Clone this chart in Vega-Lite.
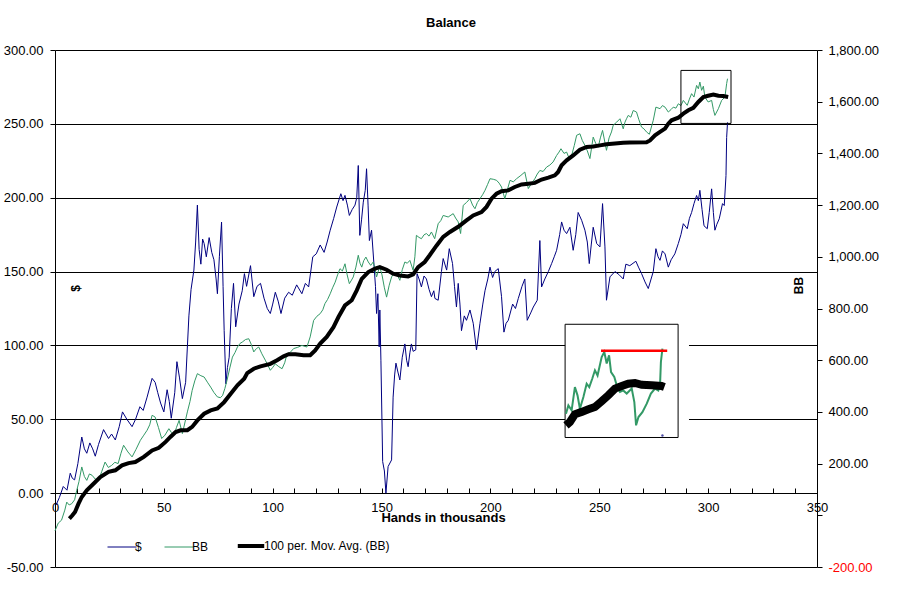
{
  "$schema": "https://vega.github.io/schema/vega-lite/v6.json",
  "width": 762,
  "height": 517,
  "autosize": "none",
  "padding": {"left": 55, "top": 50, "right": 82, "bottom": 45},
  "background": "white",
  "title": {"text": "Balance", "fontSize": 13, "fontWeight": "bold", "anchor": "middle", "dx": 15, "offset": 4, "baseline": "alphabetic", "color": "black"},
  "datasets": {
    "dollar": [
      {"s":"$","x":0.5,"v":-8},{"s":"$","x":2,"v":-3},{"s":"$","x":3.8,"v":4.5},{"s":"$","x":5.5,"v":2},{"s":"$","x":7,"v":13.5},{"s":"$","x":8,"v":10},{"s":"$","x":9,"v":9},{"s":"$","x":10.5,"v":20},{"s":"$","x":12.3,"v":38},{"s":"$","x":13.5,"v":30},{"s":"$","x":14.6,"v":27},{"s":"$","x":16,"v":34},{"s":"$","x":17.3,"v":30},{"s":"$","x":18.5,"v":25},{"s":"$","x":20,"v":33},{"s":"$","x":22.3,"v":43},{"s":"$","x":24.6,"v":37},{"s":"$","x":26,"v":40},{"s":"$","x":27.7,"v":36},{"s":"$","x":29.5,"v":45},{"s":"$","x":31,"v":55},{"s":"$","x":33,"v":50},{"s":"$","x":35.4,"v":45},{"s":"$","x":37,"v":50},{"s":"$","x":39,"v":58.5},{"s":"$","x":40.5,"v":56},{"s":"$","x":42.3,"v":65},{"s":"$","x":44.6,"v":77.7},{"s":"$","x":46,"v":75},{"s":"$","x":47.2,"v":68},{"s":"$","x":48.5,"v":61},{"s":"$","x":50,"v":55},{"s":"$","x":51.5,"v":70},{"s":"$","x":52.5,"v":62},{"s":"$","x":53.4,"v":50.7},{"s":"$","x":55,"v":68},{"s":"$","x":56,"v":89},{"s":"$","x":57.2,"v":78},{"s":"$","x":58.5,"v":64},{"s":"$","x":60,"v":75},{"s":"$","x":61.5,"v":120},{"s":"$","x":62.5,"v":138},{"s":"$","x":63.8,"v":151},{"s":"$","x":64.6,"v":170},{"s":"$","x":65.4,"v":195},{"s":"$","x":66.2,"v":165},{"s":"$","x":67,"v":155},{"s":"$","x":67.8,"v":172},{"s":"$","x":68.5,"v":169},{"s":"$","x":69.5,"v":160},{"s":"$","x":70.8,"v":173},{"s":"$","x":72,"v":163},{"s":"$","x":73,"v":158},{"s":"$","x":74,"v":145},{"s":"$","x":74.6,"v":135},{"s":"$","x":75.5,"v":160},{"s":"$","x":76.5,"v":183.5},{"s":"$","x":77.2,"v":140},{"s":"$","x":77.7,"v":110},{"s":"$","x":78.5,"v":74},{"s":"$","x":79.2,"v":85},{"s":"$","x":80,"v":92},{"s":"$","x":81,"v":125},{"s":"$","x":82,"v":142},{"s":"$","x":83,"v":112.6},{"s":"$","x":84.5,"v":128},{"s":"$","x":86,"v":137},{"s":"$","x":87,"v":148.6},{"s":"$","x":88,"v":140},{"s":"$","x":89.8,"v":154},{"s":"$","x":91.3,"v":133},{"s":"$","x":92.8,"v":140},{"s":"$","x":94.4,"v":142},{"s":"$","x":96,"v":132},{"s":"$","x":97.5,"v":125},{"s":"$","x":98.9,"v":121.6},{"s":"$","x":100,"v":128},{"s":"$","x":101.2,"v":136},{"s":"$","x":102.5,"v":130},{"s":"$","x":103.8,"v":121.6},{"s":"$","x":105.5,"v":132},{"s":"$","x":107.3,"v":136},{"s":"$","x":109,"v":134},{"s":"$","x":111,"v":141},{"s":"$","x":113.4,"v":135},{"s":"$","x":115,"v":142},{"s":"$","x":116.5,"v":139.6},{"s":"$","x":118.4,"v":160},{"s":"$","x":120,"v":162},{"s":"$","x":121.8,"v":168},{"s":"$","x":123.6,"v":163},{"s":"$","x":125,"v":170},{"s":"$","x":126.4,"v":178},{"s":"$","x":128,"v":186},{"s":"$","x":129.4,"v":193.7},{"s":"$","x":131.3,"v":202.7},{"s":"$","x":132.3,"v":198},{"s":"$","x":133.2,"v":201.6},{"s":"$","x":134.3,"v":195},{"s":"$","x":135.2,"v":188},{"s":"$","x":136.5,"v":192},{"s":"$","x":137.8,"v":195},{"s":"$","x":138.6,"v":200},{"s":"$","x":139.3,"v":221.8},{"s":"$","x":140,"v":174.5},{"s":"$","x":140.8,"v":185},{"s":"$","x":141.6,"v":197},{"s":"$","x":142.5,"v":205},{"s":"$","x":143.1,"v":219.6},{"s":"$","x":143.8,"v":195},{"s":"$","x":144.4,"v":171},{"s":"$","x":145.4,"v":178},{"s":"$","x":146.5,"v":155},{"s":"$","x":147.2,"v":140},{"s":"$","x":147.7,"v":121.6},{"s":"$","x":148.3,"v":135},{"s":"$","x":148.9,"v":99},{"s":"$","x":149.2,"v":124},{"s":"$","x":149.7,"v":90},{"s":"$","x":150.5,"v":21.4},{"s":"$","x":151.3,"v":15},{"s":"$","x":152,"v":0},{"s":"$","x":153,"v":18},{"s":"$","x":154.6,"v":22.5},{"s":"$","x":155.3,"v":65},{"s":"$","x":156,"v":80},{"s":"$","x":156.6,"v":88},{"s":"$","x":157.5,"v":82},{"s":"$","x":158.4,"v":76.6},{"s":"$","x":159.5,"v":92},{"s":"$","x":160.7,"v":101},{"s":"$","x":161.5,"v":90},{"s":"$","x":162.2,"v":85.6},{"s":"$","x":163,"v":95},{"s":"$","x":163.7,"v":101},{"s":"$","x":164.5,"v":96},{"s":"$","x":165.7,"v":97},{"s":"$","x":166.3,"v":148.6},{"s":"$","x":167.2,"v":145},{"s":"$","x":168.3,"v":139.6},{"s":"$","x":169.5,"v":147},{"s":"$","x":170.6,"v":145},{"s":"$","x":171.8,"v":138},{"s":"$","x":172.9,"v":133},{"s":"$","x":174,"v":137},{"s":"$","x":174.5,"v":131.8},{"s":"$","x":176,"v":130.6},{"s":"$","x":177.5,"v":150},{"s":"$","x":178.3,"v":158.8},{"s":"$","x":179.9,"v":151},{"s":"$","x":181.1,"v":165.5},{"s":"$","x":182.6,"v":155.4},{"s":"$","x":183.5,"v":140},{"s":"$","x":184.4,"v":126},{"s":"$","x":185.2,"v":142},{"s":"$","x":186,"v":128},{"s":"$","x":186.7,"v":110},{"s":"$","x":188,"v":120},{"s":"$","x":189,"v":117},{"s":"$","x":190.6,"v":124},{"s":"$","x":192.1,"v":115},{"s":"$","x":193.6,"v":97},{"s":"$","x":195.2,"v":115},{"s":"$","x":196.5,"v":128},{"s":"$","x":197.5,"v":137},{"s":"$","x":198.8,"v":145},{"s":"$","x":199.8,"v":153},{"s":"$","x":201,"v":146},{"s":"$","x":202,"v":150},{"s":"$","x":203.6,"v":152},{"s":"$","x":205.1,"v":133},{"s":"$","x":206.2,"v":109},{"s":"$","x":207.2,"v":115},{"s":"$","x":208.2,"v":117},{"s":"$","x":210.2,"v":128},{"s":"$","x":211.5,"v":125},{"s":"$","x":212.8,"v":131.8},{"s":"$","x":214.5,"v":140},{"s":"$","x":215.8,"v":145},{"s":"$","x":216.9,"v":117},{"s":"$","x":218.5,"v":122},{"s":"$","x":219.7,"v":126},{"s":"$","x":221.5,"v":130.6},{"s":"$","x":222.7,"v":171},{"s":"$","x":223.5,"v":139.6},{"s":"$","x":225,"v":145},{"s":"$","x":226.6,"v":150},{"s":"$","x":228.1,"v":155.4},{"s":"$","x":229.3,"v":160},{"s":"$","x":230.4,"v":164.4},{"s":"$","x":231.8,"v":175},{"s":"$","x":232.7,"v":183.6},{"s":"$","x":233.8,"v":178},{"s":"$","x":235,"v":175.7},{"s":"$","x":236.5,"v":180},{"s":"$","x":238,"v":164.4},{"s":"$","x":239.2,"v":175},{"s":"$","x":240.3,"v":190},{"s":"$","x":241.9,"v":184.7},{"s":"$","x":243.4,"v":178},{"s":"$","x":244.5,"v":170},{"s":"$","x":245.4,"v":155.4},{"s":"$","x":246.3,"v":168},{"s":"$","x":247.2,"v":180},{"s":"$","x":248.8,"v":169},{"s":"$","x":250.3,"v":166.7},{"s":"$","x":251.5,"v":196},{"s":"$","x":252.6,"v":166.7},{"s":"$","x":253.3,"v":130.6},{"s":"$","x":254.9,"v":146.4},{"s":"$","x":257.2,"v":150},{"s":"$","x":259,"v":148},{"s":"$","x":261,"v":145},{"s":"$","x":262.2,"v":155},{"s":"$","x":264,"v":154},{"s":"$","x":266.8,"v":157},{"s":"$","x":268,"v":153},{"s":"$","x":269.4,"v":148.7},{"s":"$","x":271,"v":143},{"s":"$","x":272.5,"v":138.5},{"s":"$","x":274.8,"v":150},{"s":"$","x":276,"v":165.5},{"s":"$","x":277,"v":160},{"s":"$","x":277.9,"v":157.6},{"s":"$","x":279,"v":164},{"s":"$","x":280.2,"v":162},{"s":"$","x":281.7,"v":153},{"s":"$","x":283,"v":158},{"s":"$","x":284.7,"v":162},{"s":"$","x":286.3,"v":169},{"s":"$","x":287.5,"v":175},{"s":"$","x":288.6,"v":182.4},{"s":"$","x":290.4,"v":179},{"s":"$","x":291.4,"v":186},{"s":"$","x":292.4,"v":190},{"s":"$","x":293.5,"v":196},{"s":"$","x":294.7,"v":201.5},{"s":"$","x":295.5,"v":198},{"s":"$","x":296.2,"v":205},{"s":"$","x":297.2,"v":192},{"s":"$","x":298.1,"v":181},{"s":"$","x":299.6,"v":179},{"s":"$","x":300.5,"v":190},{"s":"$","x":301.6,"v":206},{"s":"$","x":302.4,"v":190},{"s":"$","x":303.1,"v":178},{"s":"$","x":304,"v":182},{"s":"$","x":305.1,"v":185.7},{"s":"$","x":306.6,"v":196},{"s":"$","x":307.4,"v":194.7},{"s":"$","x":308.2,"v":215},{"s":"$","x":308.5,"v":240.8},{"s":"$","x":308.9,"v":251}
    ],
    "bb": [
      {"s":"BB","x":0,"v":-60},{"s":"BB","x":1.5,"v":-30},{"s":"BB","x":3,"v":-19},{"s":"BB","x":4.5,"v":20},{"s":"BB","x":5.4,"v":51},{"s":"BB","x":6.5,"v":40},{"s":"BB","x":7.7,"v":45},{"s":"BB","x":9,"v":60},{"s":"BB","x":10,"v":97},{"s":"BB","x":11,"v":130},{"s":"BB","x":12.3,"v":187},{"s":"BB","x":13.5,"v":150},{"s":"BB","x":14.6,"v":135},{"s":"BB","x":15.8,"v":160},{"s":"BB","x":17,"v":155},{"s":"BB","x":18.5,"v":140},{"s":"BB","x":20,"v":135},{"s":"BB","x":21.5,"v":170},{"s":"BB","x":23,"v":206},{"s":"BB","x":24.5,"v":185},{"s":"BB","x":26,"v":193},{"s":"BB","x":27.5,"v":205},{"s":"BB","x":29,"v":200},{"s":"BB","x":30.3,"v":240},{"s":"BB","x":31.5,"v":271},{"s":"BB","x":33.5,"v":245},{"s":"BB","x":35.4,"v":226},{"s":"BB","x":37.2,"v":255},{"s":"BB","x":39.2,"v":290},{"s":"BB","x":40.8,"v":310},{"s":"BB","x":42.3,"v":329},{"s":"BB","x":43.5,"v":350},{"s":"BB","x":44.6,"v":387},{"s":"BB","x":46,"v":380},{"s":"BB","x":47.5,"v":340},{"s":"BB","x":49,"v":297},{"s":"BB","x":50.5,"v":310},{"s":"BB","x":52.3,"v":335},{"s":"BB","x":53.5,"v":320},{"s":"BB","x":54.6,"v":310},{"s":"BB","x":55.8,"v":340},{"s":"BB","x":57,"v":367},{"s":"BB","x":58.5,"v":316},{"s":"BB","x":60.8,"v":400},{"s":"BB","x":62,"v":440},{"s":"BB","x":63,"v":483},{"s":"BB","x":64.2,"v":520},{"s":"BB","x":65.4,"v":548},{"s":"BB","x":67,"v":540},{"s":"BB","x":68.5,"v":535},{"s":"BB","x":70,"v":515},{"s":"BB","x":71.5,"v":496},{"s":"BB","x":73,"v":475},{"s":"BB","x":74.6,"v":458},{"s":"BB","x":76,"v":455},{"s":"BB","x":77,"v":464},{"s":"BB","x":78,"v":490},{"s":"BB","x":79,"v":522},{"s":"BB","x":80.3,"v":570},{"s":"BB","x":81.5,"v":612},{"s":"BB","x":82.7,"v":630},{"s":"BB","x":83.8,"v":651},{"s":"BB","x":85,"v":665},{"s":"BB","x":86,"v":670},{"s":"BB","x":87.5,"v":680},{"s":"BB","x":89,"v":683},{"s":"BB","x":90.2,"v":660},{"s":"BB","x":91.3,"v":632},{"s":"BB","x":92.5,"v":645},{"s":"BB","x":93.6,"v":651},{"s":"BB","x":95,"v":625},{"s":"BB","x":96.6,"v":600},{"s":"BB","x":97.8,"v":580},{"s":"BB","x":98.9,"v":561},{"s":"BB","x":100,"v":572},{"s":"BB","x":101.2,"v":586},{"s":"BB","x":102.8,"v":575},{"s":"BB","x":104.3,"v":567},{"s":"BB","x":105.5,"v":590},{"s":"BB","x":106.6,"v":625},{"s":"BB","x":108,"v":630},{"s":"BB","x":109.6,"v":645},{"s":"BB","x":111.5,"v":650},{"s":"BB","x":113.4,"v":657},{"s":"BB","x":115.7,"v":651},{"s":"BB","x":117.2,"v":690},{"s":"BB","x":118.8,"v":754},{"s":"BB","x":120.3,"v":770},{"s":"BB","x":121.8,"v":780},{"s":"BB","x":123,"v":795},{"s":"BB","x":124,"v":819},{"s":"BB","x":125.2,"v":835},{"s":"BB","x":126.4,"v":857},{"s":"BB","x":127.5,"v":880},{"s":"BB","x":128.7,"v":902},{"s":"BB","x":129.8,"v":930},{"s":"BB","x":130.9,"v":954},{"s":"BB","x":132,"v":945},{"s":"BB","x":133.2,"v":973},{"s":"BB","x":134.2,"v":930},{"s":"BB","x":135.2,"v":896},{"s":"BB","x":136.2,"v":910},{"s":"BB","x":137,"v":922},{"s":"BB","x":138.2,"v":960},{"s":"BB","x":139.3,"v":1006},{"s":"BB","x":140.1,"v":975},{"s":"BB","x":140.9,"v":960},{"s":"BB","x":141.8,"v":985},{"s":"BB","x":142.8,"v":999},{"s":"BB","x":143.9,"v":980},{"s":"BB","x":145,"v":967},{"s":"BB","x":146.2,"v":980},{"s":"BB","x":147,"v":950},{"s":"BB","x":147.7,"v":922},{"s":"BB","x":148.5,"v":945},{"s":"BB","x":149.2,"v":960},{"s":"BB","x":150.2,"v":930},{"s":"BB","x":151.3,"v":880},{"s":"BB","x":152.3,"v":844},{"s":"BB","x":153.5,"v":890},{"s":"BB","x":154.6,"v":922},{"s":"BB","x":155.8,"v":940},{"s":"BB","x":156.9,"v":935},{"s":"BB","x":158.4,"v":909},{"s":"BB","x":159.5,"v":950},{"s":"BB","x":160.7,"v":980},{"s":"BB","x":161.8,"v":975},{"s":"BB","x":163,"v":986},{"s":"BB","x":164.5,"v":948},{"s":"BB","x":165.3,"v":1000},{"s":"BB","x":166,"v":1083},{"s":"BB","x":167.2,"v":1075},{"s":"BB","x":168.3,"v":1070},{"s":"BB","x":169.5,"v":1085},{"s":"BB","x":170.6,"v":1090},{"s":"BB","x":171.8,"v":1080},{"s":"BB","x":172.9,"v":1096},{"s":"BB","x":174.4,"v":1070},{"s":"BB","x":176,"v":1128},{"s":"BB","x":177.2,"v":1140},{"s":"BB","x":178.3,"v":1160},{"s":"BB","x":180.6,"v":1154},{"s":"BB","x":182.9,"v":1167},{"s":"BB","x":184,"v":1150},{"s":"BB","x":185.2,"v":1135},{"s":"BB","x":186.3,"v":1090},{"s":"BB","x":187.5,"v":1199},{"s":"BB","x":189,"v":1210},{"s":"BB","x":190.6,"v":1225},{"s":"BB","x":191.8,"v":1200},{"s":"BB","x":192.9,"v":1186},{"s":"BB","x":194,"v":1210},{"s":"BB","x":195.2,"v":1225},{"s":"BB","x":196.4,"v":1240},{"s":"BB","x":197.5,"v":1257},{"s":"BB","x":198.7,"v":1280},{"s":"BB","x":199.8,"v":1302},{"s":"BB","x":201.3,"v":1300},{"s":"BB","x":202.8,"v":1296},{"s":"BB","x":204,"v":1285},{"s":"BB","x":205.1,"v":1270},{"s":"BB","x":206.6,"v":1225},{"s":"BB","x":207.8,"v":1260},{"s":"BB","x":209,"v":1296},{"s":"BB","x":210.5,"v":1290},{"s":"BB","x":212,"v":1302},{"s":"BB","x":214,"v":1315},{"s":"BB","x":215.8,"v":1328},{"s":"BB","x":217.4,"v":1264},{"s":"BB","x":219,"v":1285},{"s":"BB","x":220.4,"v":1302},{"s":"BB","x":221.5,"v":1320},{"s":"BB","x":222.7,"v":1334},{"s":"BB","x":224.2,"v":1330},{"s":"BB","x":225.8,"v":1347},{"s":"BB","x":227.3,"v":1355},{"s":"BB","x":228.8,"v":1367},{"s":"BB","x":230.4,"v":1392},{"s":"BB","x":231.5,"v":1405},{"s":"BB","x":232.4,"v":1418},{"s":"BB","x":233.8,"v":1400},{"s":"BB","x":235,"v":1405},{"s":"BB","x":236.2,"v":1380},{"s":"BB","x":237.3,"v":1392},{"s":"BB","x":238.5,"v":1430},{"s":"BB","x":239.6,"v":1470},{"s":"BB","x":241.1,"v":1476},{"s":"BB","x":242.2,"v":1450},{"s":"BB","x":243.4,"v":1431},{"s":"BB","x":244.5,"v":1410},{"s":"BB","x":245.7,"v":1380},{"s":"BB","x":247.2,"v":1463},{"s":"BB","x":248.3,"v":1440},{"s":"BB","x":249.5,"v":1424},{"s":"BB","x":250.5,"v":1460},{"s":"BB","x":251.5,"v":1489},{"s":"BB","x":253.3,"v":1412},{"s":"BB","x":254.5,"v":1460},{"s":"BB","x":255.6,"v":1483},{"s":"BB","x":256.4,"v":1509},{"s":"BB","x":258,"v":1521},{"s":"BB","x":259.5,"v":1534},{"s":"BB","x":261,"v":1495},{"s":"BB","x":261.8,"v":1521},{"s":"BB","x":262.5,"v":1534},{"s":"BB","x":263.3,"v":1547},{"s":"BB","x":264.5,"v":1540},{"s":"BB","x":265.6,"v":1566},{"s":"BB","x":267.1,"v":1560},{"s":"BB","x":268.2,"v":1530},{"s":"BB","x":269.4,"v":1502},{"s":"BB","x":270.5,"v":1495},{"s":"BB","x":271.7,"v":1483},{"s":"BB","x":273,"v":1474},{"s":"BB","x":274.8,"v":1528},{"s":"BB","x":276,"v":1579},{"s":"BB","x":277.9,"v":1573},{"s":"BB","x":279,"v":1585},{"s":"BB","x":280.2,"v":1579},{"s":"BB","x":281.7,"v":1560},{"s":"BB","x":283,"v":1570},{"s":"BB","x":284,"v":1579},{"s":"BB","x":285.2,"v":1575},{"s":"BB","x":286.3,"v":1592},{"s":"BB","x":287.5,"v":1585},{"s":"BB","x":288.6,"v":1605},{"s":"BB","x":290.4,"v":1586},{"s":"BB","x":291.4,"v":1610},{"s":"BB","x":292.4,"v":1631},{"s":"BB","x":293.5,"v":1618},{"s":"BB","x":294.7,"v":1663},{"s":"BB","x":295.5,"v":1650},{"s":"BB","x":296.2,"v":1676},{"s":"BB","x":297,"v":1644},{"s":"BB","x":297.8,"v":1660},{"s":"BB","x":298.5,"v":1618},{"s":"BB","x":300,"v":1599},{"s":"BB","x":301.6,"v":1605},{"s":"BB","x":302.4,"v":1570},{"s":"BB","x":303.1,"v":1547},{"s":"BB","x":304.7,"v":1573},{"s":"BB","x":306.2,"v":1605},{"s":"BB","x":307.7,"v":1618},{"s":"BB","x":308.5,"v":1670},{"s":"BB","x":308.9,"v":1689}
    ],
    "ma": [
      {"s":"MA","x":6.6,"v":-13},{"s":"MA","x":8,"v":0},{"s":"MA","x":9.2,"v":13},{"s":"MA","x":10.8,"v":45},{"s":"MA","x":12.3,"v":71},{"s":"MA","x":14.6,"v":97},{"s":"MA","x":17.7,"v":122},{"s":"MA","x":20.8,"v":148},{"s":"MA","x":24.6,"v":168},{"s":"MA","x":27.7,"v":174},{"s":"MA","x":30.8,"v":193},{"s":"MA","x":33.8,"v":202},{"s":"MA","x":36.9,"v":206},{"s":"MA","x":40.8,"v":226},{"s":"MA","x":44.6,"v":251},{"s":"MA","x":47.7,"v":261},{"s":"MA","x":50.8,"v":284},{"s":"MA","x":53,"v":303},{"s":"MA","x":55.4,"v":322},{"s":"MA","x":57.7,"v":329},{"s":"MA","x":60.8,"v":329},{"s":"MA","x":63,"v":342},{"s":"MA","x":65.4,"v":367},{"s":"MA","x":68.5,"v":393},{"s":"MA","x":71.5,"v":406},{"s":"MA","x":74.6,"v":413},{"s":"MA","x":77.7,"v":438},{"s":"MA","x":80.8,"v":471},{"s":"MA","x":83.8,"v":503},{"s":"MA","x":86.9,"v":528},{"s":"MA","x":88.3,"v":550},{"s":"MA","x":91.3,"v":567},{"s":"MA","x":94.4,"v":576},{"s":"MA","x":98.9,"v":586},{"s":"MA","x":102,"v":600},{"s":"MA","x":105,"v":615},{"s":"MA","x":107.3,"v":623},{"s":"MA","x":110.4,"v":623},{"s":"MA","x":114.2,"v":619},{"s":"MA","x":117.2,"v":619},{"s":"MA","x":119.5,"v":638},{"s":"MA","x":121.8,"v":664},{"s":"MA","x":124.8,"v":690},{"s":"MA","x":127.9,"v":728},{"s":"MA","x":130.2,"v":767},{"s":"MA","x":133.2,"v":812},{"s":"MA","x":136.3,"v":832},{"s":"MA","x":138.6,"v":870},{"s":"MA","x":140.9,"v":915},{"s":"MA","x":143.9,"v":941},{"s":"MA","x":147,"v":954},{"s":"MA","x":149.2,"v":960},{"s":"MA","x":152.3,"v":950},{"s":"MA","x":155.3,"v":935},{"s":"MA","x":158.4,"v":928},{"s":"MA","x":162.2,"v":924},{"s":"MA","x":164.5,"v":932},{"s":"MA","x":166.8,"v":960},{"s":"MA","x":169.8,"v":980},{"s":"MA","x":172.1,"v":1006},{"s":"MA","x":175.3,"v":1044},{"s":"MA","x":178.3,"v":1077},{"s":"MA","x":181.4,"v":1096},{"s":"MA","x":185.2,"v":1116},{"s":"MA","x":189,"v":1141},{"s":"MA","x":192.1,"v":1160},{"s":"MA","x":195.9,"v":1173},{"s":"MA","x":198.2,"v":1193},{"s":"MA","x":200.5,"v":1225},{"s":"MA","x":202.8,"v":1244},{"s":"MA","x":205.1,"v":1254},{"s":"MA","x":208.2,"v":1257},{"s":"MA","x":211.2,"v":1270},{"s":"MA","x":214.3,"v":1280},{"s":"MA","x":217.4,"v":1283},{"s":"MA","x":220.4,"v":1286},{"s":"MA","x":223.5,"v":1299},{"s":"MA","x":226.6,"v":1306},{"s":"MA","x":229.6,"v":1315},{"s":"MA","x":231.1,"v":1328},{"s":"MA","x":232.7,"v":1354},{"s":"MA","x":235,"v":1373},{"s":"MA","x":238,"v":1392},{"s":"MA","x":241.1,"v":1414},{"s":"MA","x":244.2,"v":1425},{"s":"MA","x":247.2,"v":1427},{"s":"MA","x":250.3,"v":1431},{"s":"MA","x":253.3,"v":1435},{"s":"MA","x":257.2,"v":1438},{"s":"MA","x":261,"v":1441},{"s":"MA","x":264,"v":1442},{"s":"MA","x":271.7,"v":1443},{"s":"MA","x":273.3,"v":1450},{"s":"MA","x":275.6,"v":1470},{"s":"MA","x":277.9,"v":1483},{"s":"MA","x":280.2,"v":1496},{"s":"MA","x":281.7,"v":1515},{"s":"MA","x":283.2,"v":1528},{"s":"MA","x":286.3,"v":1538},{"s":"MA","x":288.6,"v":1554},{"s":"MA","x":290.9,"v":1567},{"s":"MA","x":293.2,"v":1576},{"s":"MA","x":295.5,"v":1599},{"s":"MA","x":297.8,"v":1618},{"s":"MA","x":300,"v":1623},{"s":"MA","x":302.4,"v":1628},{"s":"MA","x":304.7,"v":1623},{"s":"MA","x":306.9,"v":1622},{"s":"MA","x":309.2,"v":1618}
    ],
    "insetBg": [{"x":234.3,"x2":291.2,"v":301,"v2":739}],
    "insetBox": [{"x":234.3,"x2":286.2,"v":301,"v2":739}],
    "zoomBox": [{"x":287.5,"x2":310.5,"v":1516,"v2":1721}],
    "insetGreen": [
      {"x":234.7,"v":393},{"x":235.8,"v":425},{"x":237.3,"v":406},{"x":238.8,"v":496},{"x":240,"v":464},{"x":241.1,"v":412},{"x":242.7,"v":458},{"x":244.2,"v":509},{"x":245.4,"v":496},{"x":246.8,"v":529},{"x":248,"v":561},{"x":249.2,"v":541},{"x":251.1,"v":612},{"x":252.3,"v":632},{"x":253.4,"v":587},{"x":254.5,"v":619},{"x":255.4,"v":554},{"x":256.9,"v":535},{"x":258,"v":503},{"x":259.5,"v":477},{"x":261,"v":483},{"x":262.6,"v":471},{"x":264.9,"v":490},{"x":266.1,"v":438},{"x":266.9,"v":348},{"x":268,"v":380},{"x":269.8,"v":399},{"x":271.8,"v":432},{"x":273.7,"v":471},{"x":275.6,"v":490},{"x":277.1,"v":483},{"x":277.9,"v":503},{"x":278.3,"v":593},{"x":279,"v":645}
    ],
    "insetBlack": [
      {"x":234.7,"v":348},{"x":236.5,"v":361},{"x":238.8,"v":391},{"x":241.9,"v":400},{"x":245,"v":410},{"x":248,"v":419},{"x":251.1,"v":441},{"x":254.1,"v":464},{"x":257.2,"v":490},{"x":260.3,"v":500},{"x":263.3,"v":509},{"x":266.4,"v":512},{"x":269.5,"v":505},{"x":274,"v":503},{"x":278.6,"v":500},{"x":279.9,"v":496}
    ],
    "insetRed": [{"x":250.8,"v":637},{"x":281.2,"v":637}],
    "insetDot": [{"x":279,"v":309}]
  },
  "layer": [
    {
      "data": {"name": "dollar"},
      "mark": {"type": "line", "strokeWidth": 1},
      "encoding": {
        "x": {
          "field": "x", "type": "quantitative",
          "scale": {"domain": [0, 350], "nice": false, "zero": false},
          "axis": {
            "orient": "bottom", "offset": -74, "tickCount": 40,
            "values": [0,10,20,30,40,50,60,70,80,90,100,110,120,130,140,150,160,170,180,190,200,210,220,230,240,250,260,270,280,290,300,310,320,330,340,350],
            "labelExpr": "datum.value % 50 === 0 ? datum.label : ''",
            "grid": false, "tickSize": -5, "tickColor": "black", "domainColor": "black",
            "labelFontSize": 13, "labelColor": "black", "labelPadding": 13, "labelFlush": false, "labelOverlap": false, "labelBound": false,
            "title": "Hands in thousands", "titleFontSize": 13, "titleFontWeight": "bold", "titleColor": "black",
            "titleX": 388, "titleY": 24, "titleBaseline": "middle", "titleAlign": "center"
          }
        },
        "y": {
          "field": "v", "type": "quantitative",
          "scale": {"domain": [-50, 300], "nice": false, "zero": false},
          "axis": {
            "orient": "left", "values": [-50,0,50,100,150,200,250,300], "tickCount": 10,
            "labelExpr": "replace(format(datum.value, '.2f'), '\u2212', '-')",
            "grid": true, "gridColor": "black", "gridOpacity": 1, "gridWidth": 1,
            "tickSize": 5, "tickColor": "black", "domainColor": "black",
            "labelFontSize": 13, "labelColor": "black", "labelPadding": 7,
            "title": "$", "titleFontSize": 12, "titleFontWeight": "bold", "titleColor": "black",
            "titleX": 20, "titleY": 238, "titleAngle": 270, "titleAlign": "center", "titleBaseline": "middle"
          }
        },
        "color": {
          "field": "s", "type": "nominal",
          "scale": {"domain": ["$", "BB", "MA"], "range": ["#000080", "#339966", "#000000"]},
          "legend": {
            "orient": "none", "legendX": 61, "legendY": 490, "direction": "horizontal", "title": null,
            "symbolType": "stroke", "symbolSize": 841, "labelFontSize": 12, "labelColor": "black",
            "labelOffset": 7, "columnPadding": 20, "padding": 0,
            "labelExpr": "datum.label == 'MA' ? '100 per. Mov. Avg. (BB)' : datum.label",
            "encode": {"symbols": {"update": {
              "strokeWidth": {"signal": "datum.value == 'MA' ? 4 : 1"},
              "size": {"signal": "datum.value == 'MA' ? 700 : 841"}
            }}}
          }
        }
      }
    },
    {
      "encoding": {
        "x": {"field": "x", "type": "quantitative", "axis": {"labelOverlap": false}},
        "y": {
          "field": "v", "type": "quantitative",
          "scale": {"domain": [-200, 1800], "nice": false, "zero": false},
          "axis": {
            "orient": "right", "values": [-200,0,200,400,600,800,1000,1200,1400,1600,1800], "tickCount": 12,
            "labelExpr": "datum.value == 0 ? '' : replace(format(datum.value, ',.2f'), '\u2212', '-')",
            "labelColor": {"condition": {"test": "datum.value < 0", "value": "#FF0000"}, "value": "black"},
            "grid": false, "tickSize": 5, "tickColor": "black", "domainColor": "black",
            "labelFontSize": 13, "labelPadding": 6,
            "title": "BB", "titleFontSize": 12, "titleFontWeight": "bold", "titleColor": "black",
            "titleX": -19, "titleY": 235, "titleAngle": 270, "titleAlign": "center", "titleBaseline": "middle"
          }
        }
      },
      "layer": [
        {"data": {"name": "bb"}, "mark": {"type": "line", "strokeWidth": 1}, "encoding": {"color": {"field": "s", "type": "nominal"}}},
        {"data": {"name": "ma"}, "mark": {"type": "line", "strokeWidth": 4}, "encoding": {"color": {"field": "s", "type": "nominal"}}},
        {"data": {"name": "insetBg"}, "mark": {"type": "rect", "fill": "white"}, "encoding": {"x2": {"field": "x2"}, "y2": {"field": "v2"}}},
        {"data": {"name": "insetBox"}, "mark": {"type": "rect", "fillOpacity": 0, "stroke": "black", "strokeWidth": 1}, "encoding": {"x2": {"field": "x2"}, "y2": {"field": "v2"}}},
        {"data": {"name": "zoomBox"}, "mark": {"type": "rect", "fillOpacity": 0, "stroke": "black", "strokeWidth": 1}, "encoding": {"x2": {"field": "x2"}, "y2": {"field": "v2"}}},
        {"data": {"name": "insetGreen"}, "mark": {"type": "line", "color": "#339966", "strokeWidth": 2}},
        {"data": {"name": "insetBlack"}, "mark": {"type": "line", "color": "#000000", "strokeWidth": 8}},
        {"data": {"name": "insetRed"}, "mark": {"type": "line", "color": "#FF0000", "strokeWidth": 2.5}},
        {"data": {"name": "insetDot"}, "mark": {"type": "point", "filled": true, "color": "#000080", "size": 6}}
      ]
    }
  ],
  "resolve": {"scale": {"y": "independent"}},
  "config": {
    "font": "Liberation Sans",
    "view": {"stroke": null},
    "axis": {"labelOverlap": false},
    "axisX": {"labelOverlap": false}
  }
}
